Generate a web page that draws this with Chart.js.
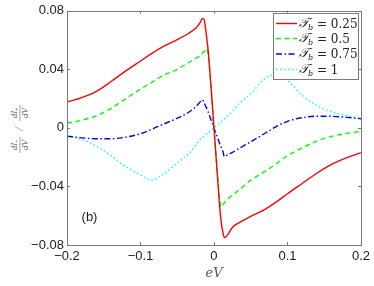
<!DOCTYPE html>
<html>
<head>
<meta charset="utf-8">
<script src="https://cdn.jsdelivr.net/npm/chart.js@4.4.1/dist/chart.umd.min.js"></script>
<style>
  html, body { margin: 0; padding: 0; background: #fff; }
  #wrap { width: 374px; height: 286px; }
</style>
</head>
<body>
<div id="wrap"><canvas id="plot"></canvas></div>
<script>
/* DATA */

const eV = [-0.2, -0.18, -0.16, -0.14, -0.12, -0.1, -0.085, -0.07, -0.05, -0.035, -0.025, -0.02,
    -0.016, -0.014, -0.012, -0.01, -0.008, -0.004, 0, 0.004, 0.008, 0.01, 0.012, 0.014, 0.016,
    0.02, 0.025, 0.035, 0.05, 0.07, 0.085, 0.1, 0.12, 0.14, 0.16, 0.18, 0.2];

const tb025 = [0.0176, 0.0207, 0.0250, 0.0317, 0.0390, 0.0457, 0.0507, 0.0553, 0.0603, 0.0645, 0.0680, 0.0710,
    0.0745, 0.0748, 0.0700, 0.0620, 0.0535, 0.0280, 0, -0.0280, -0.0550, -0.0650, -0.0710, -0.0748, -0.0745,
    -0.0720, -0.0680, -0.0645, -0.0605, -0.0555, -0.0505, -0.0450, -0.0380, -0.0310, -0.0250, -0.0205, -0.0169];

const tb05 = [0.0033, 0.0052, 0.0082, 0.0134, 0.0200, 0.0265, 0.0310, 0.0355, 0.0400, 0.0445, 0.0475, 0.0490,
    0.0510, 0.0520, 0.0530, 0.0545, 0.0500, 0.0270, 0, -0.0270, -0.0500, -0.0543, -0.0528, -0.0512, -0.0500,
    -0.0480, -0.0460, -0.0420, -0.0357, -0.0295, -0.0245, -0.0190, -0.0137, -0.0090, -0.0058, -0.0038, -0.0024];

const tb075 = [-0.0056, -0.0068, -0.0074, -0.0074, -0.0063, -0.0040, -0.0010, 0.0023, 0.0066, 0.0105, 0.0143, 0.0170,
    0.0192, 0.0180, 0.0155, 0.0135, 0.0110, 0.0055, 0, -0.0055, -0.0110, -0.0135, -0.0158, -0.0195, -0.0190,
    -0.0180, -0.0168, -0.0138, -0.0095, -0.0035, 0.0010, 0.0045, 0.0070, 0.0080, 0.0079, 0.0072, 0.0063];

const tb1 = [-0.0056, -0.0080, -0.0125, -0.0190, -0.0265, -0.0322, -0.0357, -0.0320, -0.0240, -0.0180, -0.0120, -0.0085,
    -0.0068, -0.0058, -0.0050, -0.0042, -0.0034, -0.0017, 0, 0.0017, 0.0034, 0.0042, 0.0050, 0.0058, 0.0068,
    0.0085, 0.0115, 0.0170, 0.0235, 0.0340, 0.0365, 0.0325, 0.0222, 0.0153, 0.0110, 0.0085, 0.0063];

const xTicks = [-0.2, -0.1, 0, 0.1, 0.2];
const yTicks = [-0.08, -0.04, 0, 0.04, 0.08];
const seriesLabels = ["0.25", "0.5", "0.75", "1"];

/* HELPERS */

function pts(ys) {
    return eV.map((x, i) => ({ x: x, y: ys[i] }));
}

function tickText(v) {
    const r = Math.round(v * 1000) / 1000;
    if (r === 0) return "0";
    return (r < 0 ? "\u2212" : "") + String(Math.abs(r));
}

const frameColor = "#7a7a7a";

/* FRAME, INNER TICKS, LABELS, LEGEND */

const decor = {
    id: "decor",
    afterDatasetsDraw(chart) {
        const ctx = chart.ctx;
        const a = chart.chartArea;
        const xs = chart.scales.x, ys = chart.scales.y;

        ctx.save();
        ctx.strokeStyle = frameColor;
        ctx.lineWidth = 1;
        ctx.strokeRect(Math.round(a.left) + 0.5, Math.round(a.top) + 0.5,
            Math.round(a.right - a.left), Math.round(a.bottom - a.top));

        ctx.beginPath();
        xTicks.forEach(v => {
            const px = Math.round(xs.getPixelForValue(v)) + 0.5;
            ctx.moveTo(px, a.top); ctx.lineTo(px, a.top + 3);
            ctx.moveTo(px, a.bottom); ctx.lineTo(px, a.bottom - 3);
        });
        yTicks.forEach(v => {
            const py = Math.round(ys.getPixelForValue(v)) + 0.5;
            ctx.moveTo(a.left, py); ctx.lineTo(a.left + 3, py);
            ctx.moveTo(a.right, py); ctx.lineTo(a.right - 3, py);
        });
        ctx.stroke();

        /* (b) */
        ctx.fillStyle = "#222";
        ctx.font = "13px 'Liberation Sans', Arial, sans-serif";
        ctx.textAlign = "center";
        ctx.textBaseline = "middle";
        ctx.fillText("(b)", 89.5, 217);

        /* x label */
        ctx.fillStyle = "#555";
        ctx.font = "italic 13px 'DejaVu Serif', 'Liberation Serif', serif";
        ctx.fillText("eV", (a.left + a.right) / 2, 274);

        /* y label: dI-/dV / dI+/dV */
        ctx.translate(20, 129);
        ctx.rotate(-Math.PI / 2);
        ctx.font = "italic 9px 'Liberation Serif', serif";
        ctx.fillStyle = "#666";
        ctx.strokeStyle = "#777";
        ctx.lineWidth = 0.7;
        const frac = (cx, num) => {
            ctx.fillText(num, cx, -5.5);
            ctx.fillText("dV", cx, 5.5);
            ctx.beginPath();
            ctx.moveTo(cx - 8, 0); ctx.lineTo(cx + 8, 0);
            ctx.stroke();
        };
        frac(-16, "dI\u208B");
        ctx.font = "italic 13px 'Liberation Serif', serif";
        ctx.fillText("/", 0, 0);
        ctx.font = "italic 9px 'Liberation Serif', serif";
        frac(16, "dI\u208A");
        ctx.restore();

        /* legend */
        ctx.save();
        const lx = 273.5, ly = 13.5, lw = 85, lh = 66;
        ctx.fillStyle = "#fff";
        ctx.fillRect(lx, ly, lw, lh);
        ctx.strokeStyle = frameColor;
        ctx.lineWidth = 1;
        ctx.strokeRect(lx, ly, lw, lh);
        const rows = [23.5, 38.5, 54, 69.5];
        chart.data.datasets.forEach((ds, i) => {
            const y = rows[i];
            ctx.strokeStyle = ds.borderColor;
            ctx.lineWidth = ds.borderWidth;
            ctx.setLineDash(ds.borderDash || []);
            ctx.beginPath();
            ctx.moveTo(276, y); ctx.lineTo(297, y);
            ctx.stroke();
            ctx.setLineDash([]);

            ctx.fillStyle = "#222";
            ctx.textBaseline = "middle";
            ctx.textAlign = "left";
            ctx.font = "italic 13px 'DejaVu Serif', serif";
            ctx.fillText("\uD835\uDCAF", 299, y);
            let w = ctx.measureText("\uD835\uDCAF").width;
            ctx.font = "italic 8px 'DejaVu Serif', serif";
            ctx.fillText("b", 299 + w - 1, y + 4);
            const wb = ctx.measureText("b").width;
            ctx.font = "12px 'DejaVu Serif', 'Liberation Serif', serif";
            ctx.fillText(" = " + seriesLabels[i], 299 + w + wb - 1, y + 1);
        });
        ctx.restore();
    }
};

/* CHART */

const lineDefaults = { fill: false, pointRadius: 0, borderWidth: 1.4, cubicInterpolationMode: "monotone" };

new Chart(document.getElementById("plot"), {
    type: "line",
    data: {
        datasets: [
            { ...lineDefaults, data: pts(tb025), borderColor: "#ff0000" },
            { ...lineDefaults, data: pts(tb05), borderColor: "#00ff00", borderDash: [5, 3.5] },
            { ...lineDefaults, data: pts(tb075), borderColor: "#0000ff", borderDash: [6, 2.5, 1.5, 2.5] },
            { ...lineDefaults, data: pts(tb1), borderColor: "#00ffff", borderDash: [1.5, 2.5] }
        ]
    },
    options: {
        responsive: true,
        maintainAspectRatio: false,
        animation: false,
        layout: { padding: { top: 10, right: 13, left: 0, bottom: 0 } },
        plugins: { legend: { display: false }, tooltip: { enabled: false } },
        scales: {
            x: {
                type: "linear",
                min: -0.2, max: 0.2,
                afterFit: s => { s.height = 41; },
                afterBuildTicks: s => { s.ticks = xTicks.map(v => ({ value: v })); },
                grid: { display: false, drawTicks: false },
                border: { display: false },
                ticks: {
                    padding: 4,
                    color: "#222",
                    font: { family: "'Liberation Sans', Arial, sans-serif", size: 13 },
                    callback: v => tickText(v)
                }
            },
            y: {
                min: -0.08, max: 0.08,
                afterFit: s => { s.width = 67; },
                afterBuildTicks: s => { s.ticks = yTicks.map(v => ({ value: v })); },
                grid: { display: false, drawTicks: false },
                border: { display: false },
                ticks: {
                    padding: 3,
                    color: "#222",
                    font: { family: "'Liberation Sans', Arial, sans-serif", size: 13 },
                    callback: v => tickText(v)
                }
            }
        }
    },
    plugins: [decor]
});
</script>
</body>
</html>
